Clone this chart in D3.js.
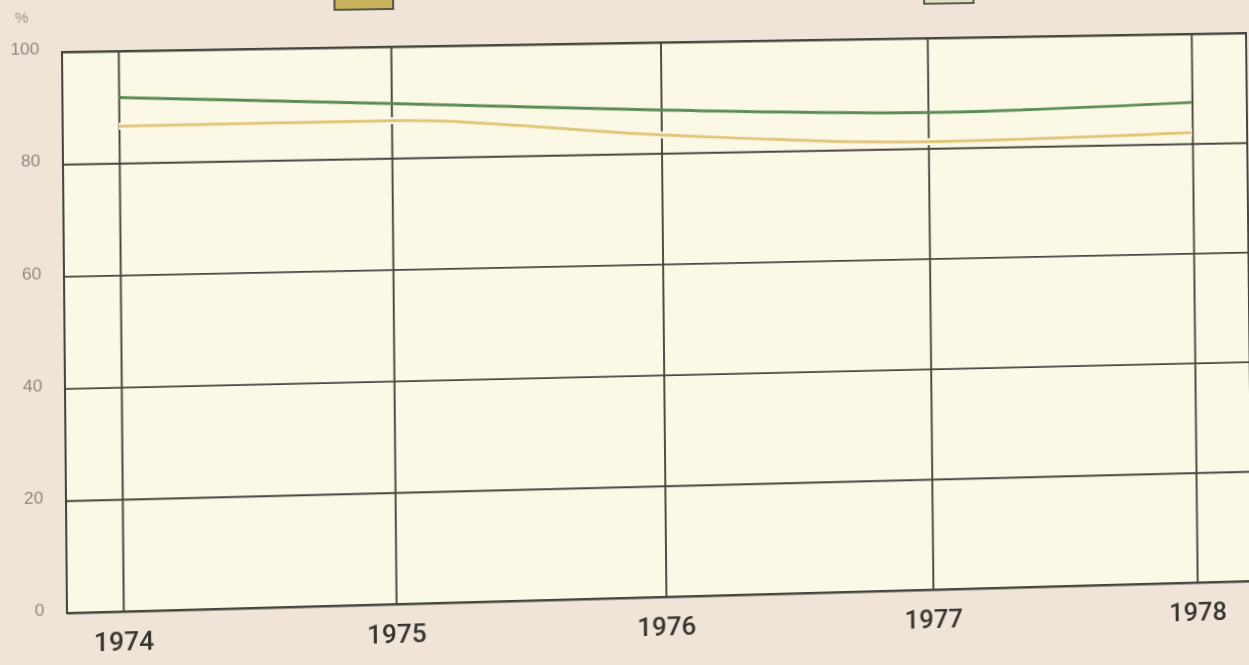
<!doctype html>
<html>
  <head>
    <meta charset="utf-8">
    <title>1974 - 1978</title>
    <script src="https://cdnjs.cloudflare.com/ajax/libs/d3/7.8.5/d3.min.js"></script>
    <style>
      html, body { margin: 0; padding: 0; overflow: hidden; }
      body { width: 1249px; height: 665px; background: #f0e3d7; }
      #chart svg { position: absolute; left: 0; top: 0; overflow: visible; transform-origin: 0 0; }
      .ylab text { font-family: "Liberation Sans", Arial, sans-serif; font-size: 17px; fill: #8e8984; }
      .xlab text { font-family: Roboto, "Liberation Sans", Arial, sans-serif; font-size: 26px; font-weight: 500; fill: #363632; }
    </style>
  </head>
  <body>
    <div id="chart"></div>

    <script>
    // data
    let years = [1974, 1975, 1976, 1977, 1978];
    let greenValues = [91.7, 89.8, 87.8, 86.5, 87.5];
    let yellowValues = [86.6, 86.7, 83.3, 81.2, 82.0];
    let yTicks = [0, 20, 40, 60, 80, 100];
    let seriesNames = ["yellow series", "green series"];

    let width = 1249, height = 665;
    let plot = { left: 62, right: 1246, top: 52, bottom: 613 };

    let x = d3.scaleLinear().domain([1974, 1978]).range([117, 1190]);
    let y = d3.scaleLinear().domain([0, 100]).range([plot.bottom, plot.top]);

    let svg = d3.select("#chart")
      .append("svg")
      .attr("width", width)
      .attr("height", height);

    // legend swatches, mostly cut off at the top of the page
    let legend = [
      { name: seriesNames[0], x0: 330, x1: 388, bottom: 14, fill: "#c9b25c" },
      { name: seriesNames[1], x0: 919, x1: 969, bottom: 17, fill: "#dfe0c0" }
    ];
    svg.selectAll(".swatch")
      .data(legend)
      .join("rect")
      .attr("class", "swatch")
      .attr("x", d => d.x0)
      .attr("y", -30)
      .attr("width", d => d.x1 - d.x0)
      .attr("height", d => d.bottom + 30)
      .style("fill", d => d.fill)
      .style("stroke", "#4a4a40")
      .style("stroke-width", 1.8);

    // plot area
    svg.append("rect")
      .attr("x", plot.left)
      .attr("y", plot.top)
      .attr("width", plot.right - plot.left)
      .attr("height", plot.bottom - plot.top)
      .style("fill", "#fbf8e5");

    let gridColor = "#46463f";

    // horizontal grid + y labels
    let yAxis = svg.append("g")
      .attr("class", "ylab")
      .attr("transform", `translate(${plot.left},0)`)
      .call(d3.axisLeft(y).tickValues(yTicks).tickSize(-(plot.right - plot.left)).tickPadding(22));
    yAxis.select(".domain").remove();
    yAxis.selectAll("line").style("stroke", gridColor).style("stroke-width", 1.9);
    yAxis.selectAll("text").attr("dy", "0.1em");

    // vertical grid + year labels
    let xAxis = svg.append("g")
      .attr("class", "xlab")
      .attr("transform", `translate(0,${plot.bottom})`)
      .call(d3.axisBottom(x).tickValues(years).tickFormat(d3.format("d"))
        .tickSize(-(plot.bottom - plot.top)).tickPadding(21));
    xAxis.select(".domain").remove();
    xAxis.selectAll("line").style("stroke", gridColor).style("stroke-width", 1.9);

    // frame
    svg.append("rect")
      .attr("x", plot.left)
      .attr("y", plot.top)
      .attr("width", plot.right - plot.left)
      .attr("height", plot.bottom - plot.top)
      .style("fill", "none")
      .style("stroke", gridColor)
      .style("stroke-width", 2);

    svg.append("text")
      .attr("x", 23)
      .attr("y", 22)
      .text("%")
      .style("text-anchor", "middle")
      .style("font-family", "Liberation Sans, Arial, sans-serif")
      .style("font-size", "15px")
      .style("fill", "#9a948e");

    let line = d3.line()
      .x((d, i) => x(years[i]))
      .y(d => y(d))
      .curve(d3.curveMonotoneX);

    // the printed yellow line knocks out the grid a little
    svg.append("path")
      .attr("d", line(yellowValues))
      .style("fill", "none")
      .style("stroke", "#fbf8e5")
      .style("stroke-width", 7);
    svg.append("path")
      .attr("d", line(yellowValues))
      .style("fill", "none")
      .style("stroke", "#e0c77c")
      .style("stroke-width", 3);

    svg.append("path")
      .attr("d", line(greenValues))
      .style("fill", "none")
      .style("stroke", "#5a8c55")
      .style("stroke-width", 3);

    // the scan is not square: warp the flat chart onto the photographed corners
    let from = [[plot.left, plot.top], [plot.right, plot.top], [plot.right, plot.bottom], [plot.left, plot.bottom]];
    let to = [[62, 52], [1246, 33], [1252, 581], [67, 613]];

    function homography(src, dst) {
      let A = [], b = [];
      for (let i = 0; i < 4; i++) {
        let [sx, sy] = src[i], [dx, dy] = dst[i];
        A.push([sx, sy, 1, 0, 0, 0, -sx * dx, -sy * dx]); b.push(dx);
        A.push([0, 0, 0, sx, sy, 1, -sx * dy, -sy * dy]); b.push(dy);
      }
      let n = 8;
      for (let c = 0; c < n; c++) {
        let p = c;
        for (let r = c + 1; r < n; r++) if (Math.abs(A[r][c]) > Math.abs(A[p][c])) p = r;
        [A[c], A[p]] = [A[p], A[c]]; [b[c], b[p]] = [b[p], b[c]];
        for (let r = 0; r < n; r++) {
          if (r == c) continue;
          let f = A[r][c] / A[c][c];
          for (let k = c; k < n; k++) A[r][k] -= f * A[c][k];
          b[r] -= f * b[c];
        }
      }
      return b.map((v, i) => v / A[i][i]);
    }

    let [a, bb, c, d, e, f, g, h] = homography(from, to);
    svg.style("transform", `matrix3d(${a},${d},0,${g},${bb},${e},0,${h},0,0,1,0,${c},${f},0,1)`);
    </script>
  </body>
</html>
